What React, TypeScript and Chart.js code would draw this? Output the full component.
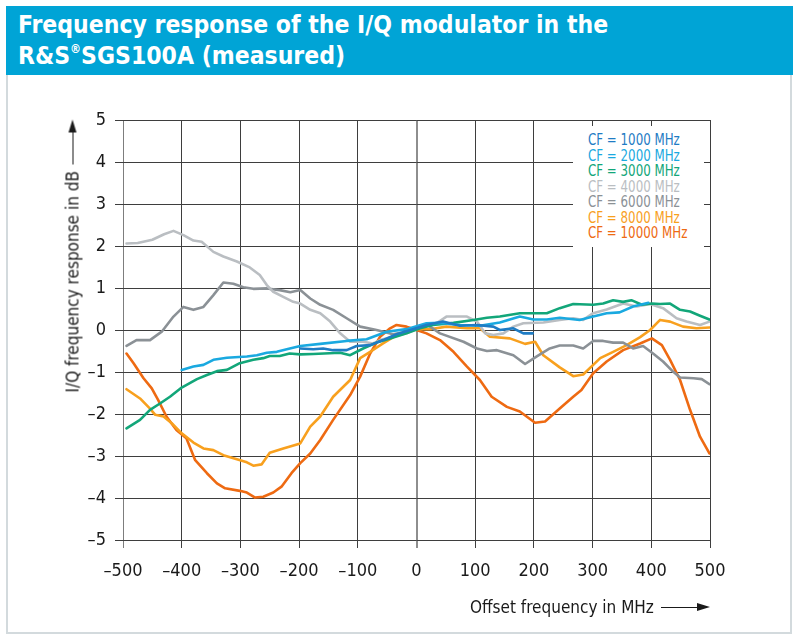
import React, { useEffect, useRef } from "react";
import { Chart, registerables } from "chart.js";

Chart.register(...registerables);

const FONT = '"DejaVu Sans Condensed", "Liberation Sans", sans-serif';

const xTicks = [-500, -400, -300, -200, -100, 0, 100, 200, 300, 400, 500];
const yTicks = [-5, -4, -3, -2, -1, 0, 1, 2, 3, 4, 5];

const labels = [
  "CF = 1000 MHz",
  "CF = 2000 MHz",
  "CF = 3000 MHz",
  "CF = 4000 MHz",
  "CF = 6000 MHz",
  "CF = 8000 MHz",
  "CF = 10000 MHz",
];
const colors = ["#1f7cc4", "#1aa9e0", "#12a679", "#babec2", "#8b9196", "#f8a01e", "#ee6a12"];

const cf1000X = [-198, -176, -159, -142, -119, -102, -79, -57, -34, -6, 17, 45, 74, 103, 131, 142, 165, 182, 198];
const cf1000Y = [-0.44, -0.46, -0.44, -0.48, -0.48, -0.38, -0.36, -0.24, -0.1, 0.02, 0.12, 0.2, 0.1, 0.12, 0.08, 0.0, 0.04, -0.08, -0.08];

const cf2000X = [-400, -380, -363, -346, -323, -289, -272, -255, -238, -221, -198, -164, -119, -85, -51, -17, 17, 40, 74, 108, 142, 176, 199, 222, 244, 278, 301, 324, 346, 369, 395];
const cf2000Y = [-0.95, -0.87, -0.83, -0.71, -0.66, -0.63, -0.6, -0.54, -0.52, -0.46, -0.38, -0.33, -0.26, -0.22, -0.04, 0.02, 0.16, 0.17, 0.12, 0.1, 0.18, 0.32, 0.25, 0.25, 0.29, 0.24, 0.32, 0.4, 0.42, 0.56, 0.65];

const cf3000X = [-494, -471, -454, -437, -420, -400, -374, -357, -340, -323, -301, -278, -261, -250, -233, -216, -198, -176, -130, -113, -91, -68, -45, -17, 6, 28, 63, 97, 120, 142, 176, 222, 244, 267, 301, 318, 335, 352, 366, 384, 401, 415, 432, 449, 466, 483, 499];
const cf3000Y = [-2.34, -2.14, -1.9, -1.75, -1.59, -1.37, -1.17, -1.07, -0.98, -0.95, -0.79, -0.71, -0.67, -0.62, -0.62, -0.56, -0.58, -0.57, -0.54, -0.6, -0.44, -0.3, -0.2, -0.08, 0.04, 0.12, 0.17, 0.24, 0.29, 0.32, 0.4, 0.4, 0.52, 0.62, 0.6, 0.63, 0.71, 0.67, 0.71, 0.6, 0.63, 0.62, 0.63, 0.48, 0.44, 0.34, 0.25];

const cf4000X = [-494, -475, -450, -430, -414, -397, -380, -366, -346, -329, -306, -284, -267, -255, -244, -227, -210, -198, -181, -164, -147, -130, -113, -91, -74, -62, -40, -17, 0, 17, 34, 51, 86, 103, 117, 131, 148, 165, 182, 216, 244, 267, 284, 301, 324, 352, 375, 398, 420, 443, 460, 483, 499];
const cf4000Y = [2.06, 2.07, 2.15, 2.28, 2.36, 2.26, 2.13, 2.1, 1.86, 1.75, 1.63, 1.49, 1.31, 1.07, 0.91, 0.79, 0.67, 0.63, 0.48, 0.4, 0.2, -0.08, -0.28, -0.28, -0.32, -0.24, -0.16, -0.08, 0.02, 0.12, 0.16, 0.32, 0.32, 0.2, -0.08, -0.12, -0.08, 0.08, 0.16, 0.18, 0.24, 0.28, 0.24, 0.4, 0.49, 0.63, 0.56, 0.62, 0.52, 0.28, 0.2, 0.12, 0.2];

const cf6000X = [-494, -477, -454, -434, -414, -397, -380, -363, -346, -329, -312, -295, -278, -255, -233, -215, -198, -181, -164, -142, -119, -96, -68, -40, -17, 17, 40, 80, 103, 120, 137, 165, 185, 205, 227, 244, 267, 284, 301, 318, 335, 352, 369, 386, 403, 420, 437, 449, 472, 486, 499];
const cf6000Y = [-0.38, -0.24, -0.24, -0.04, 0.32, 0.55, 0.48, 0.55, 0.83, 1.13, 1.1, 1.02, 0.98, 0.99, 0.95, 0.9, 0.95, 0.75, 0.6, 0.48, 0.28, 0.08, 0.0, -0.1, -0.04, 0.14, -0.08, -0.28, -0.44, -0.5, -0.48, -0.6, -0.81, -0.63, -0.44, -0.37, -0.37, -0.44, -0.26, -0.26, -0.3, -0.3, -0.44, -0.38, -0.56, -0.75, -0.99, -1.13, -1.15, -1.17, -1.29];

const cf8000X = [-494, -471, -454, -445, -431, -417, -400, -380, -363, -346, -329, -306, -289, -278, -264, -250, -227, -198, -181, -164, -142, -113, -96, -79, -57, -34, -17, 0, 23, 51, 86, 108, 125, 159, 185, 202, 216, 244, 267, 284, 313, 335, 358, 381, 398, 415, 432, 454, 477, 499];
const cf8000Y = [-1.41, -1.63, -1.87, -2.02, -2.06, -2.22, -2.46, -2.68, -2.82, -2.86, -2.98, -3.08, -3.15, -3.23, -3.2, -2.92, -2.82, -2.7, -2.3, -2.06, -1.59, -1.19, -0.67, -0.52, -0.32, -0.12, -0.04, 0.02, 0.02, 0.08, 0.04, 0.04, -0.16, -0.2, -0.33, -0.28, -0.6, -0.89, -1.1, -1.06, -0.67, -0.52, -0.36, -0.17, 0.0, 0.24, 0.2, 0.08, 0.04, 0.06];

const cf10000X = [-494, -482, -465, -451, -440, -426, -409, -392, -377, -357, -340, -326, -301, -289, -275, -261, -244, -230, -213, -198, -181, -164, -142, -113, -96, -79, -62, -45, -34, -17, 0, 17, 40, 63, 86, 108, 128, 154, 176, 202, 219, 244, 267, 281, 301, 324, 352, 381, 401, 418, 432, 449, 466, 483, 499];
const cf10000Y = [-0.56, -0.79, -1.15, -1.39, -1.67, -2.06, -2.38, -2.58, -3.1, -3.41, -3.65, -3.77, -3.83, -3.87, -3.99, -3.97, -3.87, -3.73, -3.41, -3.17, -2.94, -2.62, -2.14, -1.55, -1.11, -0.56, -0.16, 0.04, 0.12, 0.08, 0.0, -0.08, -0.24, -0.52, -0.87, -1.19, -1.59, -1.83, -1.94, -2.21, -2.18, -1.87, -1.59, -1.43, -1.03, -0.75, -0.48, -0.32, -0.2, -0.36, -0.71, -1.19, -1.9, -2.54, -2.94];

const seriesX = [cf1000X, cf2000X, cf3000X, cf4000X, cf6000X, cf8000X, cf10000X];
const seriesY = [cf1000Y, cf2000Y, cf3000Y, cf4000Y, cf6000Y, cf8000Y, cf10000Y];

const fmt = (v: number) => (v < 0 ? "\u2013" + Math.abs(v) : String(v));

function ArrowTitle({ text, style }: { text: string; style: React.CSSProperties }) {
  return (
    <div
      style={{
        position: "absolute",
        display: "flex",
        alignItems: "center",
        fontFamily: FONT,
        fontSize: 17,
        color: "#1a1a1a",
        whiteSpace: "nowrap",
        height: 22,
        ...style,
      }}
    >
      <span>{text}</span>
      <div style={{ flex: 1, height: 1, background: "#1a1a1a", marginLeft: 7 }} />
      <div
        style={{
          width: 0,
          height: 0,
          borderLeft: "13px solid #1a1a1a",
          borderTop: "4px solid transparent",
          borderBottom: "4px solid transparent",
        }}
      />
    </div>
  );
}

export default function App() {
  const ref = useRef<HTMLCanvasElement | null>(null);

  useEffect(() => {
    if (!ref.current) return;
    const gridColor = (v: number) => (v === 0 ? "#8e8e8e" : v === -500 ? "#7d7d7d" : "#3e3e3e");
    const chart = new Chart(ref.current, {
      type: "line",
      data: {
        datasets: labels.map((label, i) => ({
          label,
          data: seriesX[i].map((x, j) => ({ x, y: seriesY[i][j] })),
          borderColor: colors[i],
          backgroundColor: colors[i],
          borderWidth: 2.6,
          pointRadius: 0,
          fill: false,
          tension: 0,
          borderJoinStyle: "round" as const,
          borderCapStyle: "round" as const,
        })),
      },
      options: {
        animation: false,
        responsive: false,
        maintainAspectRatio: false,
        layout: { padding: { left: 0, right: 83, top: 120, bottom: 0 } },
        plugins: { legend: { display: false }, tooltip: { enabled: false } },
        scales: {
          x: {
            type: "linear",
            min: -500,
            max: 500,
            afterFit: (s: any) => {
              s.height = 95;
            },
            afterBuildTicks: (s: any) => {
              s.ticks = xTicks.map((v) => ({ value: v }));
            },
            ticks: {
              callback: (v: any) => fmt(Number(v)),
              font: { family: FONT, size: 18 },
              color: "#1a1a1a",
              padding: 13,
              maxRotation: 0,
              autoSkip: false,
            },
            grid: {
              color: (c: any) => gridColor(c.tick ? c.tick.value : 1),
              lineWidth: (c: any) => (c.tick && c.tick.value === 0 ? 2 : 1),
              tickLength: 8,
              drawTicks: true,
            },
            border: { display: false },
          },
          y: {
            type: "linear",
            min: -5,
            max: 5,
            afterFit: (s: any) => {
              s.width = 123;
            },
            afterBuildTicks: (s: any) => {
              s.ticks = yTicks.map((v) => ({ value: v }));
            },
            ticks: {
              callback: (v: any) => fmt(Number(v)),
              font: { family: FONT, size: 18 },
              color: "#1a1a1a",
              padding: 9,
            },
            grid: {
              color: "#3e3e3e",
              lineWidth: 1,
              tickLength: 8,
              drawTicks: true,
            },
            border: { display: false },
          },
        },
      },
    });
    return () => chart.destroy();
  }, []);

  return (
    <div style={{ position: "absolute", left: 0, top: 0, width: 793, height: 635, background: "#fff", overflow: "hidden" }}>
      <div
        style={{
          position: "absolute",
          left: 6,
          top: 74,
          width: 786,
          height: 560,
          border: "2px solid #d3dadd",
          borderTop: "none",
          boxSizing: "border-box",
        }}
      />
      <div
        style={{
          position: "absolute",
          left: 6,
          top: 6,
          width: 787,
          height: 69,
          background: "#00a4d6",
          color: "#fff",
          fontFamily: FONT,
          fontWeight: "bold",
          fontSize: 24.5,
          lineHeight: "31px",
          padding: "3px 0 0 12px",
          boxSizing: "border-box",
        }}
      >
        <div>Frequency response of the I/Q modulator in the</div>
        <div>
          R&amp;S<sup style={{ fontSize: "0.5em", lineHeight: 0, verticalAlign: "0.9em" }}>®</sup>SGS100A (measured)
        </div>
      </div>
      <canvas ref={ref} width={793} height={635} style={{ position: "absolute", left: 0, top: 0, width: 793, height: 635 }} />
      <div
        style={{
          position: "absolute",
          left: 573,
          top: 126,
          width: 131,
          height: 121,
          background: "#fff",
          fontFamily: FONT,
          fontSize: 15.5,
          lineHeight: "15.5px",
          padding: "7px 0 0 15px",
          boxSizing: "border-box",
        }}
      >
        {labels.map((l, i) => (
          <div
            key={l}
            style={{ color: colors[i], whiteSpace: "nowrap", transform: "scaleX(0.85)", transformOrigin: "left center" }}
          >
            {l}
          </div>
        ))}
      </div>
      <ArrowTitle
        text="I/Q frequency response in dB"
        style={{ left: 72 - 273 / 2, top: 256 - 11, width: 273, transform: "rotate(-90deg)" }}
      />
      <ArrowTitle text="Offset frequency in MHz" style={{ left: 470, top: 596, width: 240 }} />
    </div>
  );
}
